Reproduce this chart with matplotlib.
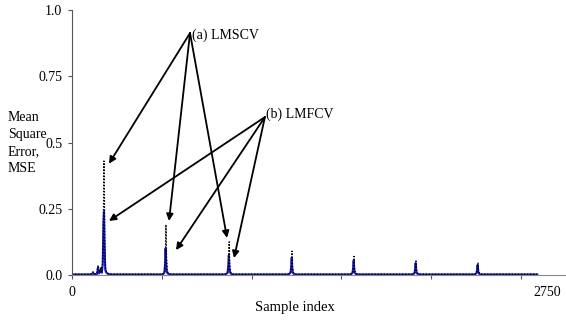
import matplotlib
matplotlib.use("Agg")
import matplotlib.pyplot as plt

plt.rcParams["font.family"] = ["Liberation Serif", "DejaVu Serif"]
plt.rcParams["font.size"] = 10

# (a) LMSCV - black dotted series
lmscv_x = [0, 100, 110, 117, 124, 138, 145, 152, 158, 161, 165, 170, 174, 178, 182, 186, 192, 200, 215,
           500, 510, 516, 520, 523, 526, 530, 536, 550,
           850, 862, 868, 872, 875, 878, 882, 888, 900,
           1200, 1212, 1218, 1222, 1225, 1228, 1232, 1238, 1250,
           1545, 1557, 1563, 1567, 1570, 1573, 1577, 1583, 1595,
           1890, 1902, 1908, 1912, 1915, 1918, 1922, 1928, 1940,
           2235, 2247, 2253, 2257, 2260, 2263, 2267, 2273, 2285, 2590]
lmscv_y = [0.003, 0.003, 0.006, 0.012, 0.004, 0.006, 0.036, 0.008, 0.015, 0.03, 0.01, 0.04, 0.12, 0.43, 0.16, 0.03, 0.012, 0.006, 0.003,
           0.003, 0.006, 0.012, 0.06, 0.19, 0.07, 0.015, 0.008, 0.003,
           0.003, 0.006, 0.012, 0.05, 0.125, 0.04, 0.012, 0.006, 0.003,
           0.003, 0.006, 0.012, 0.04, 0.09, 0.03, 0.01, 0.005, 0.003,
           0.003, 0.005, 0.01, 0.03, 0.07, 0.025, 0.01, 0.005, 0.003,
           0.003, 0.005, 0.01, 0.025, 0.053, 0.02, 0.008, 0.004, 0.003,
           0.003, 0.005, 0.01, 0.022, 0.045, 0.018, 0.008, 0.004, 0.003, 0.003]

# (b) LMFCV - blue series
lmfcv_x = [0, 110, 117, 124, 140, 145, 150, 160, 166, 171, 175, 178, 181, 185, 190, 200, 220,
           505, 514, 518, 521, 524, 527, 532, 545,
           855, 866, 870, 873, 876, 879, 884, 895,
           1205, 1216, 1220, 1223, 1226, 1229, 1234, 1245,
           1550, 1561, 1565, 1568, 1571, 1574, 1579, 1590,
           1895, 1906, 1910, 1913, 1916, 1919, 1924, 1935,
           2240, 2251, 2255, 2258, 2261, 2264, 2269, 2280, 2590]
lmfcv_y = [0.002, 0.002, 0.008, 0.003, 0.004, 0.03, 0.006, 0.02, 0.008, 0.04, 0.2, 0.24, 0.12, 0.02, 0.01, 0.004, 0.002,
           0.002, 0.008, 0.04, 0.1, 0.05, 0.015, 0.006, 0.002,
           0.002, 0.008, 0.035, 0.075, 0.03, 0.012, 0.005, 0.002,
           0.002, 0.008, 0.03, 0.065, 0.025, 0.01, 0.004, 0.002,
           0.002, 0.007, 0.025, 0.055, 0.02, 0.009, 0.004, 0.002,
           0.002, 0.006, 0.02, 0.045, 0.018, 0.008, 0.004, 0.002,
           0.002, 0.006, 0.018, 0.038, 0.015, 0.007, 0.003, 0.002, 0.002]

y_ticks = [0.0, 0.25, 0.5, 0.75, 1.0]
y_tick_labels = ["0.0", "0.25", "0.5", "0.75", "1.0"]

# arrow targets
arrows_a = [(206, 0.42), (540, 0.204), (863, 0.14)]
arrows_b = [(206, 0.204), (579, 0.094), (902, 0.064)]

fig = plt.figure(figsize=(5.66, 3.2), dpi=100)
ax = fig.add_axes([72 / 566, 1 - 275 / 320, 494 / 566, 265 / 320])

ax.plot(lmfcv_x, lmfcv_y, color="#1a1ad0", lw=1.5)
ax.plot(lmscv_x, lmscv_y, color="black", lw=1.0, ls=(0, (1, 1.2)))

ax.set_xlim(0, 2750)
ax.set_ylim(0, 1.0)
ax.spines["top"].set_visible(False)
ax.spines["right"].set_visible(False)
ax.spines["left"].set_color("#555555")
ax.spines["bottom"].set_color("#888888")

ax.set_yticks(y_ticks)
ax.set_yticklabels(y_tick_labels)
ax.set_xticks([0, 500, 1000, 1500, 2000, 2500])
ax.set_xticklabels([])
ax.tick_params(axis="y", direction="out", length=3, color="#555555", pad=4)
ax.tick_params(axis="x", direction="out", length=3, color="#555555")

fig.text(72 / 566, 1 - 293 / 320, "0", ha="center", va="center")
fig.text(547 / 566, 1 - 293 / 320, "2750", ha="center", va="center")
fig.text(295 / 566, 1 - 307 / 320, "Sample index", ha="center", va="center", fontsize=10.5)
fig.text(8 / 566, 1 - 143 / 320, "Mean\nSquare\nError,\nMSE", ha="left", va="center",
         linespacing=1.4)

arrow_props = dict(arrowstyle="-|>", color="black", lw=1.3, mutation_scale=10,
                   shrinkA=0, shrinkB=0)
for tx, ty in arrows_a:
    ax.annotate("", xy=(tx, ty), xytext=(657, 0.913), arrowprops=arrow_props)
for tx, ty in arrows_b:
    ax.annotate("", xy=(tx, ty), xytext=(1074, 0.596), arrowprops=arrow_props)
ax.text(670, 0.906, "(a) LMSCV", ha="left", va="center")
ax.text(1082, 0.605, "(b) LMFCV", ha="left", va="center")

fig.savefig("out.png", dpi=100)
